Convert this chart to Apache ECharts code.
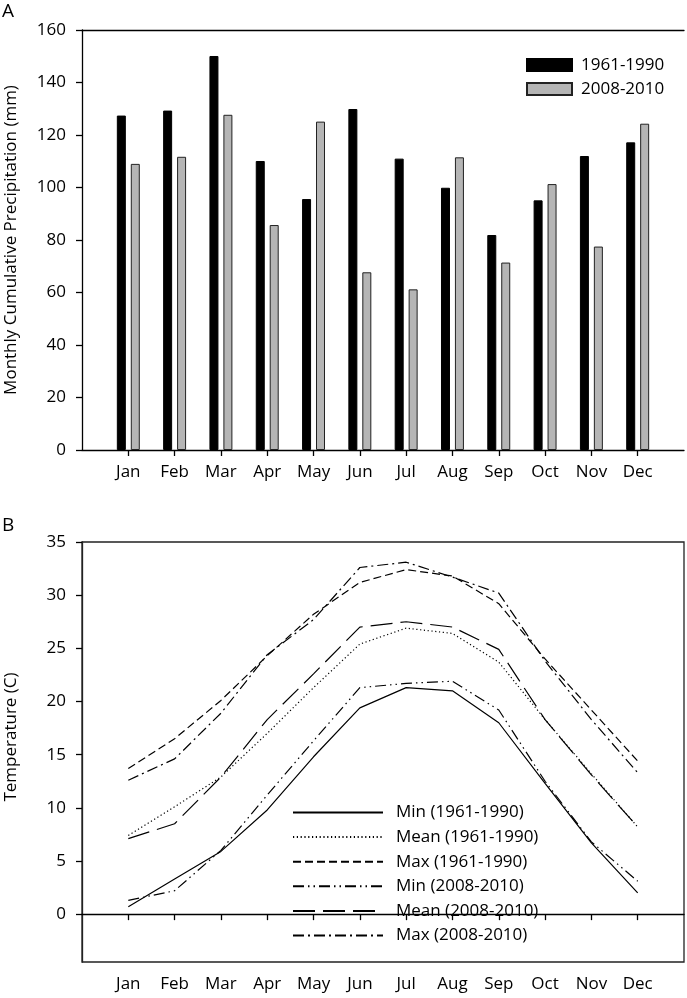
<!DOCTYPE html>
<html>
<head>
<meta charset="utf-8">
<script src="https://cdn.jsdelivr.net/npm/echarts@6/dist/echarts.min.js"></script>
<style>
html,body{margin:0;padding:0;background:#fff;}
#chart{width:687px;height:998px;}
</style>
</head>
<body>
<div id="chart"></div>
<script>
// ---- data ----
const months = ['Jan','Feb','Mar','Apr','May','Jun','Jul','Aug','Sep','Oct','Nov','Dec'];
const precip1961 = [127.4, 129.3, 150.1, 110.1, 95.6, 129.9, 111.0, 99.9, 81.9, 95.1, 112.0, 117.2];
const precip2008 = [109.0, 111.7, 127.7, 85.7, 125.1, 67.7, 61.2, 111.5, 71.4, 101.3, 77.5, 124.3];

const minOld  = [0.7, 3.3, 5.9, 9.8, 14.8, 19.4, 21.3, 21.0, 18.0, 12.3, 6.7, 2.0];
const meanOld = [7.4, 10.1, 12.9, 17.0, 21.3, 25.4, 26.9, 26.4, 23.7, 18.3, 13.2, 8.2];
const maxOld  = [13.7, 16.5, 20.1, 24.3, 28.2, 31.2, 32.4, 31.8, 29.2, 24.0, 19.2, 14.4];
const minNew  = [1.3, 2.2, 6.0, 11.2, 16.3, 21.3, 21.7, 21.9, 19.2, 12.5, 6.8, 3.1];
const meanNew = [7.1, 8.5, 12.9, 18.3, 22.6, 27.0, 27.5, 27.0, 24.9, 18.3, 13.1, 8.2];
const maxNew  = [12.6, 14.6, 18.9, 24.4, 27.7, 32.6, 33.1, 31.7, 30.2, 23.8, 18.3, 13.3];

const precipTicks = [0, 20, 40, 60, 80, 100, 120, 140, 160];
const tempTicks = [0, 5, 10, 15, 20, 25, 30, 35];

// padded categories: empty slot at both ends of the axis
const cats = [''].concat(months, ['']);
const pad = arr => [null].concat(arr, [null]);

const FONT = 'Open Sans';
const FS = 17;
const ink = '#000';

const xBase = (gridIndex) => ({
  type: 'category', gridIndex, data: cats, boundaryGap: false,
  axisLine: {show: true, lineStyle: {color: ink, width: 1.3}},
  axisTick: {show: true, length: 6, interval: (i) => i > 0 && i < cats.length - 1, lineStyle: {color: ink, width: 1.3}},
  axisLabel: {color: ink, fontFamily: FONT, fontSize: FS, margin: 14, interval: 0},
  splitLine: {show: false}
});

const chart = echarts.init(document.getElementById('chart'), null, {renderer: 'canvas'});
const lineSeries = (name, data, type) => ({
  name, type: 'line', xAxisIndex: 2, yAxisIndex: 1, data: pad(data),
  symbol: 'none', connectNulls: false,
  lineStyle: {color: '#000', width: 1.2, type},
  itemStyle: {color: '#000'}
});

chart.setOption({
  animation: false,
  backgroundColor: '#fff',
  textStyle: {fontFamily: FONT},
  title: [
    {text: 'A', left: 2, top: 2, padding: 0, textStyle: {fontFamily: FONT, fontSize: 19, fontWeight: 'normal', color: ink}},
    {text: 'B', left: 2, top: 516, padding: 0, textStyle: {fontFamily: FONT, fontSize: 19, fontWeight: 'normal', color: ink}}
  ],
  grid: [
    {left: 82, top: 30, right: 3, height: 420, outerBoundsMode: 'none', containLabel: false},
    {left: 82, top: 542, right: 3, height: 420, outerBoundsMode: 'none', containLabel: false,
     show: true, borderColor: '#222', borderWidth: 1.3}
  ],
  legend: [
    {
      data: ['1961-1990', '2008-2010'], orient: 'vertical', left: 526, top: 56.5, padding: 0,
      itemWidth: 45, itemHeight: 12, itemGap: 7, icon: 'rect',
      textStyle: {fontFamily: FONT, fontSize: FS, color: ink, padding: [0, 0, 0, 4]}
    },
    {
      data: ['Min (1961-1990)', 'Mean (1961-1990)', 'Max (1961-1990)', 'Min (2008-2010)', 'Mean (2008-2010)', 'Max (2008-2010)'],
      orient: 'vertical', left: 292, top: 804, padding: 0,
      itemWidth: 90, itemHeight: 14, itemGap: 7.6,
      itemStyle: {opacity: 0},
      textStyle: {fontFamily: FONT, fontSize: FS, color: ink, padding: [0, 0, 0, 8]}
    }
  ],
  xAxis: [
    xBase(0),
    {type: 'category', gridIndex: 0, data: cats, boundaryGap: false, position: 'top',
     axisLine: {show: true, lineStyle: {color: ink, width: 1.3}}, axisTick: {show: false}, axisLabel: {show: false}},
    xBase(1)
  ],
  yAxis: [
    {
      type: 'value', gridIndex: 0, min: 0, max: 160, interval: 20,
      name: 'Monthly Cumulative Precipitation (mm)', nameLocation: 'middle', nameGap: 62,
      nameTextStyle: {fontFamily: FONT, fontSize: FS, color: ink},
      axisLine: {show: true, lineStyle: {color: ink, width: 1.3}},
      axisTick: {show: true, length: 6, lineStyle: {color: ink, width: 1.3}},
      axisLabel: {color: ink, fontFamily: FONT, fontSize: FS, margin: 16, customValues: precipTicks},
      splitLine: {show: false}
    },
    {
      type: 'value', gridIndex: 1, min: -4.5, max: 35,
      name: 'Temperature (C)', nameLocation: 'middle', nameGap: 62,
      nameTextStyle: {fontFamily: FONT, fontSize: FS, color: ink, padding: [0, 0, 0, 30]},
      axisLine: {show: true, lineStyle: {color: '#222', width: 1.3}},
      axisTick: {show: true, length: 6, lineStyle: {color: ink, width: 1.3}, customValues: tempTicks},
      axisLabel: {color: ink, fontFamily: FONT, fontSize: FS, margin: 16, customValues: tempTicks},
      splitLine: {show: false}
    }
  ],
  series: [
    {name: '1961-1990', type: 'bar', xAxisIndex: 0, yAxisIndex: 0, data: pad(precip1961),
     barWidth: 9, barGap: '55%', itemStyle: {color: '#000', borderColor: '#000', borderWidth: 1}},
    {name: '2008-2010', type: 'bar', xAxisIndex: 0, yAxisIndex: 0, data: pad(precip2008),
     barWidth: 9, barGap: '55%', itemStyle: {color: '#b5b5b5', borderColor: '#222', borderWidth: 1}},
    lineSeries('Min (1961-1990)', minOld, 'solid'),
    lineSeries('Mean (1961-1990)', meanOld, [1.2, 2.6]),
    lineSeries('Max (1961-1990)', maxOld, [8, 4]),
    lineSeries('Min (2008-2010)', minNew, [11, 4, 1.5, 4, 1.5, 4]),
    lineSeries('Mean (2008-2010)', meanNew, [22, 8]),
    lineSeries('Max (2008-2010)', maxNew, [11, 4, 2, 4])
  ]
});
</script>
</body>
</html>
